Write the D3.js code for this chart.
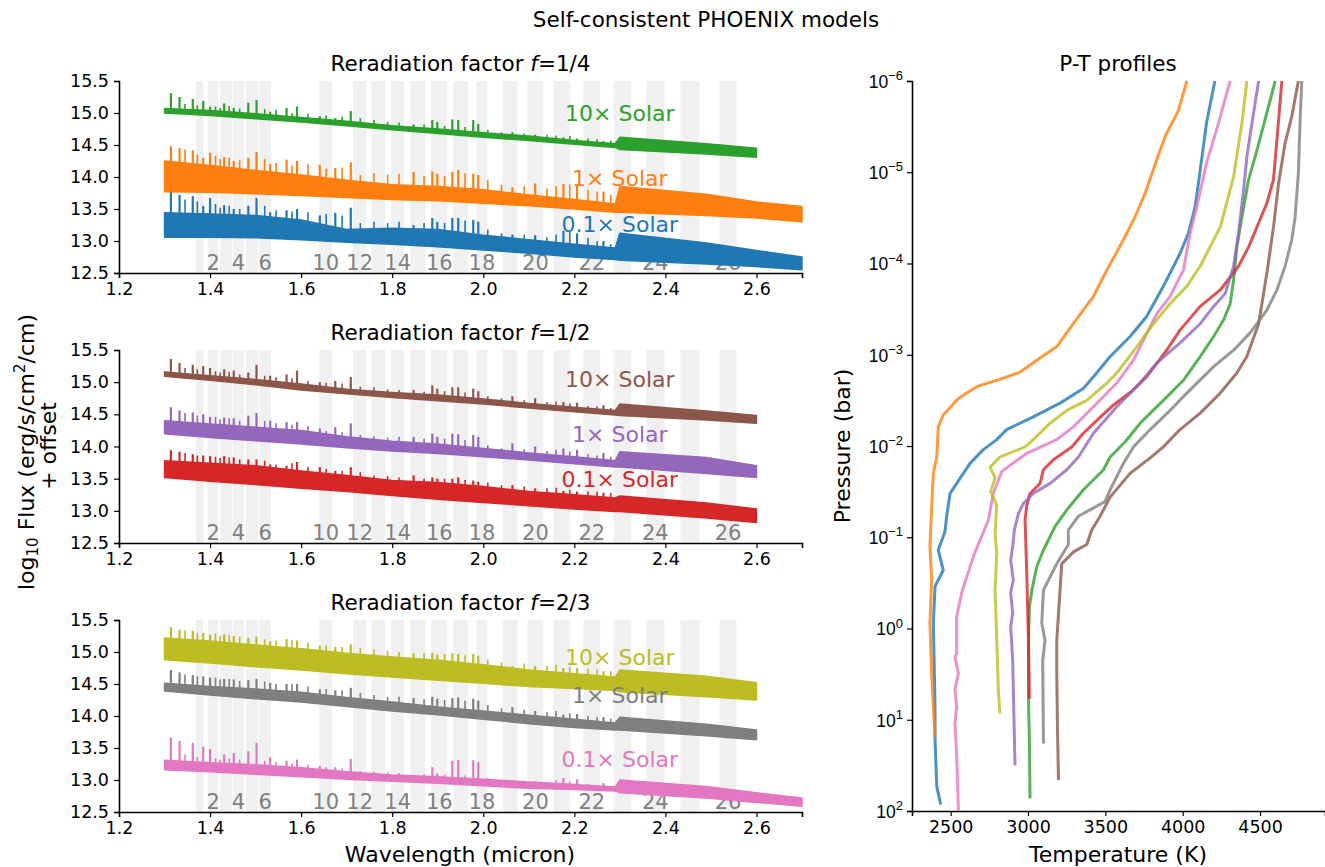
<!DOCTYPE html>
<html>
<head>
<meta charset="utf-8">
<script src="https://cdn.jsdelivr.net/npm/d3@7"></script>
<style>
body { margin: 0; background: #fff; }
svg { font-family: "DejaVu Sans", sans-serif; }
</style>
</head>
<body>
<svg id="chart" width="1325" height="867"></svg>
<script>
// ---- spectra: shared wavelength knots for the envelopes (micron)
var envWave = [1.30, 1.40, 1.50, 1.60, 1.70, 1.80, 1.90, 2.00, 2.10, 2.20, 2.29, 2.30, 2.49, 2.60, 2.70];

// f = 1/4
var green10Lower  = [15.00, 14.96, 14.91, 14.86, 14.80, 14.74, 14.68, 14.62, 14.57, 14.51, 14.46, 14.43, 14.36, 14.31, null];
var green10Upper  = [15.07, 15.04, 14.99, 14.93, 14.87, 14.80, 14.75, 14.69, 14.64, 14.57, 14.52, 14.62, 14.52, 14.45, null];
var orange1Lower  = [13.77, 13.76, 13.74, 13.71, 13.68, 13.65, 13.63, 13.59, 13.55, 13.50, 13.45, 13.45, 13.40, 13.36, 13.30];
var orange1Upper  = [14.25, 14.18, 14.10, 14.03, 13.95, 13.88, 13.85, 13.80, 13.72, 13.65, 13.58, 13.85, 13.73, 13.61, 13.54];
var blue01Lower   = [13.06, 13.06, 13.05, 13.02, 12.98, 12.95, 12.91, 12.86, 12.81, 12.75, 12.71, 12.70, 12.64, 12.60, 12.55];
var blue01Upper   = [13.44, 13.42, 13.40, 13.33, 13.18, 13.20, 13.18, 13.09, 13.02, 12.95, 12.89, 13.12, 12.97, 12.85, 12.75];
// f = 1/2
var brown10Lower  = [15.09, 15.03, 14.96, 14.88, 14.82, 14.76, 14.71, 14.66, 14.60, 14.54, 14.49, 14.48, 14.41, 14.36, null];
var brown10Upper  = [15.16, 15.10, 15.04, 14.97, 14.89, 14.84, 14.80, 14.74, 14.67, 14.61, 14.56, 14.66, 14.55, 14.48, null];
var purple1Lower  = [14.20, 14.14, 14.09, 14.04, 13.98, 13.93, 13.89, 13.84, 13.79, 13.73, 13.68, 13.68, 13.58, 13.52, null];
var purple1Upper  = [14.40, 14.35, 14.30, 14.25, 14.15, 14.08, 14.04, 13.97, 13.90, 13.84, 13.78, 13.92, 13.83, 13.70, null];
var red01Lower    = [13.52, 13.46, 13.41, 13.35, 13.30, 13.24, 13.18, 13.13, 13.08, 13.03, 12.99, 12.99, 12.89, 12.82, null];
var red01Upper    = [13.78, 13.74, 13.70, 13.62, 13.55, 13.47, 13.44, 13.38, 13.30, 13.25, 13.20, 13.23, 13.12, 13.03, null];
// f = 2/3
var olive10Lower  = [14.88, 14.83, 14.77, 14.72, 14.66, 14.61, 14.56, 14.51, 14.46, 14.43, 14.40, 14.38, 14.30, 14.25, null];
var olive10Upper  = [15.22, 15.17, 15.11, 15.05, 14.98, 14.92, 14.87, 14.80, 14.72, 14.66, 14.61, 14.72, 14.62, 14.52, null];
var grey1Lower    = [14.39, 14.33, 14.27, 14.22, 14.15, 14.08, 14.02, 13.95, 13.88, 13.82, 13.78, 13.78, 13.69, 13.63, null];
var grey1Upper    = [14.51, 14.46, 14.42, 14.37, 14.29, 14.22, 14.14, 14.08, 14.01, 13.95, 13.89, 13.98, 13.87, 13.78, null];
var pink01Lower   = [13.16, 13.13, 13.09, 13.05, 13.01, 12.98, 12.95, 12.91, 12.87, 12.85, 12.83, 12.80, 12.72, 12.65, 12.59];
var pink01Upper   = [13.31, 13.27, 13.24, 13.19, 13.13, 13.08, 13.05, 13.01, 12.97, 12.93, 12.89, 13.00, 12.90, 12.80, 12.72];

// ---- strong line peaks sticking out of each spectrum
var spikeWave = [1.314, 1.333, 1.362, 1.385, 1.400, 1.431, 1.452, 1.484, 1.502, 1.532, 1.568, 1.591, 1.641, 1.675,
                 1.709, 1.847, 1.888, 1.899, 1.932, 1.945, 1.978, 1.989, 2.064, 2.114, 2.176, 2.206, 2.264];
var green10Spikes  = [15.31, 15.25, 15.22, 15.19, 15.10, 15.15, 15.08, 15.16, 15.20, 15.02, 15.08, 15.10, 14.95, 14.92, 15.03, 14.82, 14.89, 14.86, 14.90, 14.89, 14.89, 14.83, 14.70, 14.66, 14.62, 14.60, 14.56];
var orange1Spikes  = [14.48, 14.45, 14.42, 14.30, 14.38, 14.31, 14.25, 14.30, 14.39, 14.20, 14.27, 14.25, 14.19, 14.14, 14.23, 14.08, 14.09, 14.05, 14.08, 14.11, 14.05, 14.03, 13.84, 13.90, 13.89, 13.86, 13.77];
var blue01Spikes   = [13.77, 13.72, 13.70, 13.55, 13.67, 13.56, 13.50, 13.55, 13.67, 13.45, 13.48, 13.50, 13.40, 13.44, 13.52, 13.25, 13.36, 13.30, 13.36, 13.36, 13.33, 13.30, 13.10, 13.09, 13.16, 13.12, 13.00];
var brown10Spikes  = [15.36, 15.30, 15.27, 15.25, 15.22, 15.20, 15.18, 15.15, 15.27, 15.10, 15.12, 15.18, 15.00, 15.02, 15.08, 14.88, 14.95, 14.90, 14.92, 14.92, 14.90, 14.86, 14.78, 14.75, 14.69, 14.68, 14.64];
var purple1Spikes  = [14.61, 14.56, 14.53, 14.50, 14.46, 14.45, 14.44, 14.48, 14.52, 14.40, 14.38, 14.38, 14.28, 14.30, 14.36, 14.15, 14.20, 14.15, 14.20, 14.19, 14.18, 14.15, 14.05, 14.00, 13.97, 13.95, 13.90];
var red01Spikes    = [13.94, 13.92, 13.88, 13.86, 13.85, 13.85, 13.83, 13.80, 13.80, 13.72, 13.70, 13.76, 13.68, 13.62, 13.68, 13.55, 13.52, 13.50, 13.50, 13.52, 13.47, 13.45, 13.40, 13.35, 13.31, 13.30, 13.28];
var olive10Spikes  = [15.39, 15.35, 15.33, 15.30, 15.27, 15.28, 15.25, 15.22, 15.24, 15.17, 15.20, 15.18, 15.10, 15.08, 15.12, 14.98, 14.99, 14.96, 14.98, 14.97, 14.97, 14.94, 14.78, 14.78, 14.75, 14.75, 14.70];
var grey1Spikes    = [14.72, 14.68, 14.64, 14.62, 14.60, 14.58, 14.57, 14.56, 14.58, 14.52, 14.50, 14.50, 14.42, 14.40, 14.44, 14.28, 14.30, 14.27, 14.28, 14.29, 14.27, 14.24, 14.14, 14.08, 14.02, 14.03, 13.98];
var pink01Spikes   = [13.66, 13.61, 13.58, 13.52, 13.48, 13.40, 13.42, 13.45, 13.58, 13.35, 13.30, 13.32, 13.22, 13.20, 13.33, 13.08, 13.20, 13.10, 13.30, 13.31, 13.31, 13.28, 13.00, 12.98, 13.03, 13.01, 12.95];

// ---- weaker peaks in between
var fineWave = [1.345, 1.372, 1.412, 1.422, 1.442, 1.465, 1.520, 1.545, 1.580, 1.615, 1.655, 1.690, 1.730, 1.760,
                1.790, 1.815, 1.870, 1.915, 1.960, 2.010, 2.040, 2.090, 2.140, 2.160, 2.190, 2.230, 2.250, 2.280];
var green10Fine  = [15.14, 15.12, 15.10, 15.08, 15.11, 15.07, 15.06, 15.05, 15.00, 14.99, 14.96, 14.94, 14.92, 14.89, 14.86, 14.85, 14.82, 14.80, 14.78, 14.74, 14.70, 14.68, 14.66, 14.65, 14.64, 14.60, 14.59, 14.57];
var orange1Fine  = [14.43, 14.35, 14.33, 14.28, 14.30, 14.26, 14.28, 14.22, 14.18, 14.20, 14.13, 14.15, 14.03, 14.06, 14.04, 14.05, 14.01, 14.02, 14.06, 13.95, 13.88, 13.86, 13.82, 13.86, 13.88, 13.80, 13.77, 13.72];
var blue01Fine   = [13.65, 13.62, 13.58, 13.52, 13.55, 13.50, 13.55, 13.48, 13.46, 13.45, 13.42, 13.40, 13.28, 13.30, 13.28, 13.30, 13.28, 13.28, 13.32, 13.18, 13.12, 13.10, 13.06, 13.10, 13.14, 13.05, 13.00, 12.95];
var brown10Fine  = [15.22, 15.20, 15.17, 15.15, 15.16, 15.12, 15.10, 15.08, 15.06, 15.02, 14.99, 14.98, 14.93, 14.92, 14.89, 14.88, 14.85, 14.86, 14.84, 14.78, 14.75, 14.72, 14.69, 14.70, 14.67, 14.63, 14.62, 14.60];
var purple1Fine  = [14.52, 14.48, 14.46, 14.42, 14.44, 14.40, 14.40, 14.36, 14.34, 14.32, 14.24, 14.22, 14.18, 14.16, 14.14, 14.15, 14.12, 14.12, 14.10, 14.02, 13.97, 13.96, 13.93, 13.95, 13.92, 13.88, 13.86, 13.84];
var red01Fine    = [13.90, 13.86, 13.84, 13.82, 13.83, 13.80, 13.78, 13.72, 13.74, 13.68, 13.65, 13.62, 13.60, 13.55, 13.54, 13.52, 13.50, 13.50, 13.48, 13.44, 13.40, 13.38, 13.35, 13.36, 13.33, 13.30, 13.30, 13.28];
var olive10Fine  = [15.34, 15.30, 15.29, 15.25, 15.27, 15.24, 15.20, 15.18, 15.19, 15.15, 15.10, 15.08, 15.06, 15.04, 15.02, 15.00, 14.98, 14.97, 14.95, 14.88, 14.84, 14.82, 14.78, 14.80, 14.77, 14.74, 14.73, 14.70];
var grey1Fine    = [14.65, 14.62, 14.60, 14.57, 14.58, 14.55, 14.54, 14.50, 14.50, 14.46, 14.42, 14.40, 14.36, 14.33, 14.30, 14.30, 14.26, 14.25, 14.24, 14.17, 14.12, 14.10, 14.06, 14.08, 14.04, 14.00, 13.98, 13.96];
var pink01Fine   = [13.40, 13.36, 13.34, 13.32, 13.34, 13.32, 13.30, 13.28, 13.26, 13.24, 13.20, 13.18, 13.14, 13.13, 13.12, 13.11, 13.09, 13.08, 13.07, 13.03, 13.00, 12.99, 12.97, 13.00, 12.98, 12.94, 12.92, 12.90];

// ---- shaded spectroscopic channels (micron) and their numbers
var bandEdges = [[1.369, 1.385], [1.396, 1.418], [1.422, 1.448], [1.450, 1.475], [1.479, 1.505], [1.508, 1.534],
                 [1.640, 1.668], [1.714, 1.743], [1.754, 1.785], [1.798, 1.826], [1.840, 1.873], [1.886, 1.921],
                 [1.934, 1.967], [1.985, 2.009], [2.042, 2.075], [2.097, 2.132], [2.154, 2.191], [2.220, 2.257],
                 [2.286, 2.325], [2.358, 2.398], [2.433, 2.475], [2.519, 2.556]];
var bandNumbers = [1, 2, 3, 4, 5, 6, 10, 12, 13, 14, 15, 16, 17, 18, 19, 20, 21, 22, 23, 24, 25, 26];
var labelledBands = [2, 4, 6, 10, 12, 14, 16, 18, 20, 22, 24, 26];

// ---- panels
var panelTitles = ["1/4", "1/2", "2/3"];
var modelNames = ["10\u00d7 Solar", "1\u00d7 Solar", "0.1\u00d7 Solar"];
var labelWave = 2.3;
var labelFlux = [[15.00, 13.98, 13.27], [15.05, 14.20, 13.50], [14.92, 14.33, 13.33]];
var fluxTicks = [12.5, 13.0, 13.5, 14.0, 14.5, 15.0, 15.5];
var waveTicks = [1.2, 1.4, 1.6, 1.8, 2.0, 2.2, 2.4, 2.6];

// ---- P-T profiles: [log10 P (bar), T (K)]
var ptOrange = [[-6, 4027], [-5.68, 3973], [-5.39, 3886], [-5.24, 3854], [-4.77, 3757], [-4.51, 3692], [-4.26, 3617], [-3.89, 3498], [-3.64, 3423], [-3.34, 3293], [-3.09, 3186], [-2.94, 3057], [-2.81, 2949], [-2.72, 2798], [-2.65, 2668], [-2.52, 2550], [-2.34, 2452], [-2.21, 2420], [-1.88, 2410], [-1.70, 2388], [-1.33, 2377], [-0.90, 2366], [-0.53, 2377], [-0.06, 2366], [0.49, 2377], [0.86, 2388], [1.19, 2399]];
var ptBlue = [[-6, 4208], [-5.54, 4154], [-5.02, 4113], [-4.62, 4080], [-4.33, 4037], [-4.11, 3983], [-3.75, 3875], [-3.42, 3767], [-3.20, 3660], [-2.98, 3531], [-2.80, 3444], [-2.63, 3358], [-2.47, 3207], [-2.32, 3034], [-2.18, 2862], [-2.07, 2798], [-1.96, 2711], [-1.81, 2625], [-1.48, 2496], [-1.23, 2474], [-1.06, 2463], [-0.86, 2420], [-0.64, 2452], [-0.46, 2399], [-0.06, 2388], [0.86, 2399], [1.22, 2399], [1.73, 2410], [1.93, 2436]];
var ptGreen = [[-6, 4598], [-5.65, 4544], [-5.24, 4480], [-4.92, 4426], [-4.51, 4383], [-4.18, 4350], [-3.82, 4329], [-3.56, 4307], [-3.38, 4264], [-3.20, 4200], [-2.98, 4113], [-2.72, 4005], [-2.50, 3875], [-2.25, 3725], [-2.05, 3630], [-1.88, 3531], [-1.74, 3488], [-1.52, 3358], [-1.30, 3251], [-1.12, 3175], [-0.86, 3100], [-0.68, 3057], [-0.42, 3025], [-0.24, 3009], [0.13, 3003], [0.79, 3003], [1.22, 3009], [1.86, 3013]];
var ptRed = [[-6, 4641], [-5.35, 4609], [-4.92, 4587], [-4.66, 4544], [-4.40, 4480], [-4.18, 4426], [-3.97, 4361], [-3.71, 4243], [-3.53, 4113], [-3.27, 3983], [-3.05, 3897], [-2.76, 3767], [-2.60, 3671], [-2.45, 3553], [-2.28, 3445], [-2.14, 3358], [-1.99, 3283], [-1.85, 3164], [-1.74, 3100], [-1.59, 3078], [-1.48, 3013], [-1.35, 2992], [-1.19, 2981], [-0.60, 2992], [0.13, 3003], [0.77, 3009]];
var ptPurple = [[-6, 4491], [-5.54, 4448], [-5.17, 4415], [-4.81, 4394], [-4.33, 4361], [-3.97, 4329], [-3.67, 4275], [-3.53, 4200], [-3.34, 4113], [-3.13, 3983], [-2.91, 3833], [-2.69, 3725], [-2.43, 3574], [-2.14, 3423], [-1.88, 3326], [-1.74, 3251], [-1.59, 3143], [-1.48, 3034], [-1.37, 2970], [-1.26, 2938], [-1.08, 2912], [-0.90, 2901], [-0.75, 2888], [-0.53, 2905], [-0.39, 2888], [-0.17, 2901], [-0.02, 2888], [0.35, 2901], [1.50, 2916]];
var ptBrown = [[-6, 4748], [-5.61, 4705], [-5.32, 4662], [-4.88, 4620], [-4.40, 4587], [-3.89, 4544], [-3.34, 4491], [-2.98, 4415], [-2.80, 4350], [-2.58, 4243], [-2.36, 4113], [-2.18, 3983], [-1.99, 3875], [-1.87, 3790], [-1.70, 3660], [-1.44, 3531], [-1.23, 3466], [-1.08, 3412], [-0.92, 3380], [-0.84, 3294], [-0.71, 3218], [-0.42, 3207], [0.13, 3186], [0.49, 3186], [1.04, 3190], [1.66, 3197]];
var ptPink = [[-6, 4307], [-5.54, 4232], [-5.10, 4154], [-4.62, 4091], [-4.33, 4048], [-3.93, 4005], [-3.64, 3919], [-3.45, 3833], [-3.16, 3746], [-2.94, 3682], [-2.69, 3574], [-2.43, 3423], [-2.21, 3293], [-2.07, 3186], [-1.92, 2992], [-1.72, 2830], [-1.48, 2776], [-1.19, 2744], [-0.79, 2647], [-0.39, 2571], [-0.13, 2539], [0.27, 2539], [0.31, 2528], [0.49, 2550], [0.67, 2528], [0.86, 2539], [1.04, 2528], [1.40, 2539], [1.99, 2550]];
var ptGrey = [[-6, 4770], [-5.57, 4759], [-4.99, 4748], [-4.51, 4727], [-4.26, 4705], [-3.97, 4662], [-3.71, 4609], [-3.49, 4544], [-3.24, 4436], [-3.05, 4329], [-2.87, 4200], [-2.58, 4027], [-2.39, 3919], [-2.18, 3790], [-1.99, 3682], [-1.81, 3617], [-1.52, 3531], [-1.39, 3498], [-1.23, 3326], [-1.08, 3261], [-0.92, 3261], [-0.71, 3186], [-0.42, 3100], [-0.06, 3089], [0.13, 3110], [0.35, 3095], [1.26, 3100]];
var ptOlive = [[-6, 4415], [-5.54, 4383], [-4.95, 4329], [-4.40, 4243], [-3.97, 4113], [-3.75, 4027], [-3.56, 3919], [-3.34, 3811], [-3.09, 3704], [-2.80, 3574], [-2.69, 3510], [-2.50, 3380], [-2.39, 3251], [-2.25, 3143], [-2.07, 3034], [-1.99, 2981], [-1.88, 2819], [-1.77, 2755], [-1.65, 2787], [-1.50, 2759], [-1.35, 2798], [-1.04, 2787], [-0.82, 2798], [-0.42, 2787], [0.13, 2798], [0.71, 2809], [0.93, 2819]];
var tempTicks = [2500, 3000, 3500, 4000, 4500];
var pressureExps = [-6, -5, -4, -3, -2, -1, 0, 1, 2];

// tab10 colours
var cBlue = "#1f77b4", cOrange = "#ff7f0e", cGreen = "#2ca02c", cRed = "#d62728", cPurple = "#9467bd",
    cBrown = "#8c564b", cPink = "#e377c2", cGrey = "#7f7f7f", cOlive = "#bcbd22";

// panel content, top row first in each list = 10x, 1x, 0.1x
var panels = [
    [ {lower: green10Lower, upper: green10Upper, spikes: green10Spikes, fine: green10Fine, color: cGreen},
      {lower: orange1Lower, upper: orange1Upper, spikes: orange1Spikes, fine: orange1Fine, color: cOrange},
      {lower: blue01Lower, upper: blue01Upper, spikes: blue01Spikes, fine: blue01Fine, color: cBlue} ],
    [ {lower: brown10Lower, upper: brown10Upper, spikes: brown10Spikes, fine: brown10Fine, color: cBrown},
      {lower: purple1Lower, upper: purple1Upper, spikes: purple1Spikes, fine: purple1Fine, color: cPurple},
      {lower: red01Lower, upper: red01Upper, spikes: red01Spikes, fine: red01Fine, color: cRed} ],
    [ {lower: olive10Lower, upper: olive10Upper, spikes: olive10Spikes, fine: olive10Fine, color: cOlive},
      {lower: grey1Lower, upper: grey1Upper, spikes: grey1Spikes, fine: grey1Fine, color: cGrey},
      {lower: pink01Lower, upper: pink01Upper, spikes: pink01Spikes, fine: pink01Fine, color: cPink} ]
];
var panelTop = [81, 350, 620];
var panelBottom = [273, 543, 812];

var svg = d3.select("#chart");
var x = d3.scaleLinear().domain([1.2, 2.7]).range([119, 802]);

function styleAxis(g)
{
    g.selectAll(".domain").attr("stroke", "#000").attr("stroke-width", 1.6);
    g.selectAll(".tick line").attr("stroke", "#000").attr("stroke-width", 1.2);
    g.selectAll(".tick text").attr("fill", "#000").style("font-size", "17.5px").style("font-family", "DejaVu Sans");
}

panels.forEach(function(series, i)
{
    var y = d3.scaleLinear().domain([12.5, 15.5]).range([panelBottom[i], panelTop[i]]);
    var g = svg.append("g");

    // grey channel stripes behind everything
    g.selectAll("rect.band").data(bandEdges).join("rect")
        .attr("x", d => x(d[0]))
        .attr("width", d => x(d[1]) - x(d[0]))
        .attr("y", y(15.5))
        .attr("height", y(12.5) - y(15.5))
        .attr("fill", "#f0f0f0");

    g.selectAll("text.band").data(bandEdges.filter((d, k) => labelledBands.indexOf(bandNumbers[k]) >= 0)).join("text")
        .attr("x", d => x((d[0] + d[1]) / 2))
        .attr("y", y(12.5) - 3)
        .attr("text-anchor", "middle")
        .attr("fill", "#808080")
        .style("font-size", "21px")
        .text((d, k) => labelledBands[k]);

    // draw 0.1x first so the upper spectra sit on top
    series.slice().reverse().forEach(function(s)
    {
        var pts = envWave.map((w, k) => ({w: w, lo: s.lower[k], hi: s.upper[k]})).filter(d => d.lo != null);
        var area = d3.area().x(d => x(d.w)).y0(d => y(d.lo)).y1(d => y(d.hi));
        g.append("path").datum(pts)
            .attr("d", area)
            .attr("fill", s.color)
            .attr("stroke", s.color)
            .attr("stroke-width", 1.5)
            .attr("stroke-linejoin", "round");

        var base = d3.scaleLinear().domain(pts.map(d => d.w)).range(pts.map(d => d.lo));
        var peaks = spikeWave.map((w, k) => [w, s.spikes[k], 2.2]).concat(fineWave.map((w, k) => [w, s.fine[k], 1.6]));
        g.selectAll(null).data(peaks).join("line")
            .attr("x1", d => x(d[0])).attr("x2", d => x(d[0]))
            .attr("y1", d => y(base(d[0])))
            .attr("y2", d => y(d[1]))
            .attr("stroke", s.color)
            .attr("stroke-width", d => d[2]);
    });

    g.selectAll("text.model").data(modelNames).join("text")
        .attr("x", x(labelWave))
        .attr("y", (d, k) => y(labelFlux[i][k]))
        .attr("dy", "0.36em")
        .attr("text-anchor", "middle")
        .attr("fill", (d, k) => series[k].color)
        .style("font-size", "22px")
        .text(d => d);

    var t = g.append("text")
        .attr("x", (x.range()[0] + x.range()[1]) / 2)
        .attr("y", panelTop[i] - 10)
        .attr("text-anchor", "middle")
        .style("font-size", "21.5px");
    t.append("tspan").text("Reradiation factor ");
    t.append("tspan").style("font-style", "italic").text("f");
    t.append("tspan").text("=" + panelTitles[i]);

    g.append("g").attr("transform", "translate(" + x.range()[0] + ",0)")
        .call(d3.axisLeft(y).tickValues(fluxTicks).tickFormat(d3.format(".1f")).tickSizeOuter(0).tickSize(5).tickPadding(5))
        .call(styleAxis);
    g.append("g").attr("transform", "translate(0," + panelBottom[i] + ")")
        .call(d3.axisBottom(x).tickValues(waveTicks).tickFormat(d3.format(".1f")).tickSizeOuter(0).tickSize(5).tickPadding(5))
        .call(styleAxis);
});

svg.append("text")
    .attr("x", 460).attr("y", 862)
    .attr("text-anchor", "middle")
    .style("font-size", "22px")
    .text("Wavelength (micron)");

var yl = svg.append("text")
    .attr("transform", "translate(34,452) rotate(-90)")
    .attr("text-anchor", "middle")
    .style("font-size", "22px");
yl.append("tspan").text("log");
yl.append("tspan").attr("baseline-shift", "-25%").style("font-size", "15px").text("10");
yl.append("tspan").text(" Flux (erg/s/cm");
yl.append("tspan").attr("baseline-shift", "super").style("font-size", "15px").text("2");
yl.append("tspan").text("/cm)");
svg.append("text")
    .attr("transform", "translate(56,446) rotate(-90)")
    .attr("text-anchor", "middle")
    .style("font-size", "22px")
    .text("+ offset");

// ---- P-T panel
var tx = d3.scaleLinear().domain([2250, 4920]).range([912, 1325]);
var py = d3.scaleLog().domain([1e-6, 1e2]).range([81, 811]);
var pt = svg.append("g");
var profiles = [[ptBlue, cBlue], [ptOrange, cOrange], [ptGreen, cGreen], [ptRed, cRed], [ptPurple, cPurple],
                [ptBrown, cBrown], [ptPink, cPink], [ptGrey, cGrey], [ptOlive, cOlive]];
var line = d3.line().x(d => tx(d[1])).y(d => py(Math.pow(10, d[0])));
profiles.forEach(function(p)
{
    pt.append("path").datum(p[0])
        .attr("d", line)
        .attr("fill", "none")
        .attr("stroke", p[1])
        .attr("stroke-opacity", 0.8)
        .attr("stroke-width", 3)
        .attr("stroke-linejoin", "round");
});

var yAxisG = pt.append("g").attr("transform", "translate(912,0)")
    .call(d3.axisLeft(py).tickValues(pressureExps.map(e => Math.pow(10, e))).tickFormat("").tickSizeOuter(0).tickSize(5))
    .call(styleAxis);
yAxisG.selectAll(".tick").each(function(d, k)
{
    var tt = d3.select(this).append("text")
        .attr("x", -9).attr("dy", "0.36em")
        .attr("text-anchor", "end").attr("fill", "#000")
        .style("font-size", "17.5px");
    tt.append("tspan").text("10");
    tt.append("tspan").attr("dy", "-0.6em").style("font-size", "13px").text(pressureExps[k] < 0 ? "\u2212" + (-pressureExps[k]) : pressureExps[k]);
});
pt.append("g").attr("transform", "translate(0,811)")
    .call(d3.axisBottom(tx).tickValues(tempTicks).tickFormat(d3.format("d")).tickSizeOuter(0).tickSize(5).tickPadding(5))
    .call(styleAxis);

svg.append("text").attr("x", 1118).attr("y", 71).attr("text-anchor", "middle").style("font-size", "21.5px").text("P-T profiles");
svg.append("text").attr("x", 1118).attr("y", 862).attr("text-anchor", "middle").style("font-size", "22px").text("Temperature (K)");
svg.append("text").attr("transform", "translate(850,446) rotate(-90)").attr("text-anchor", "middle").style("font-size", "22px").text("Pressure (bar)");

svg.append("text").attr("x", 706).attr("y", 27).attr("text-anchor", "middle").style("font-size", "21.5px").text("Self-consistent PHOENIX models");
</script>
</body>
</html>
